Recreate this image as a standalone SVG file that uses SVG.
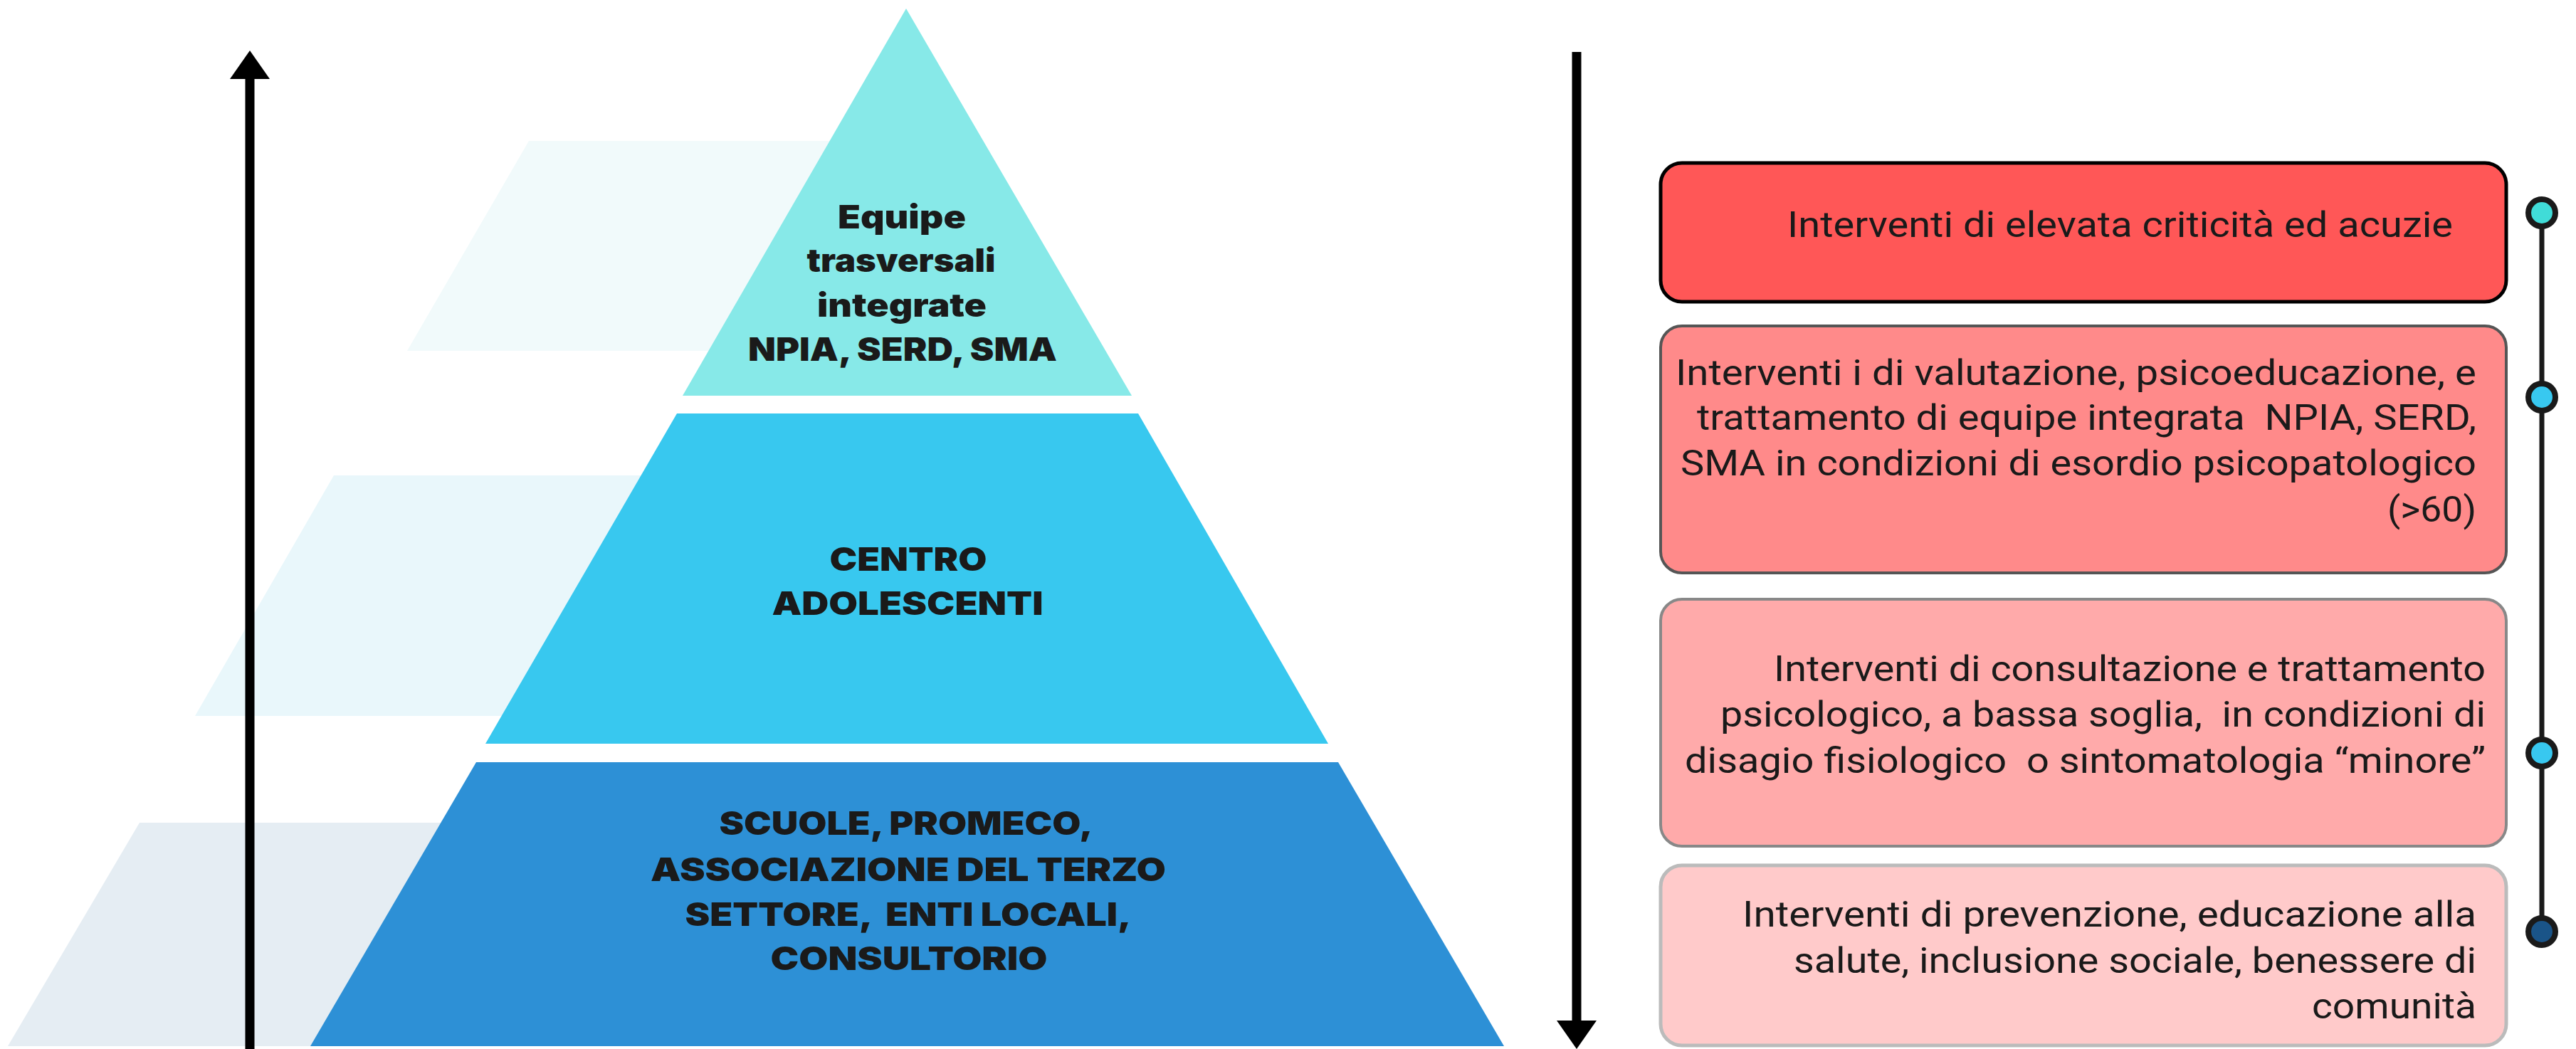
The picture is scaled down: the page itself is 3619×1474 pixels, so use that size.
<svg xmlns="http://www.w3.org/2000/svg" width="3619" height="1474" viewBox="0 0 3619 1474">
<defs>
<style>
.lbl{font-family:Inter,"Open Sans","DejaVu Sans",sans-serif;font-weight:900;font-size:45px;fill:#1a1a1a;text-anchor:middle}
.bx{font-family:Roboto,"Liberation Sans",sans-serif;font-weight:400;font-size:50px;fill:#1a1a1a}
.conn{stroke:#000;stroke-width:13;fill:none}
.dot{stroke:#1a1a1a;stroke-width:8}
</style>
<marker id="ah" viewBox="0 0 40 56" refX="0" refY="28" markerWidth="40" markerHeight="56" markerUnits="userSpaceOnUse" orient="auto">
<path d="M0,0 L40,28 L0,56 Z" fill="#000"/>
</marker>
</defs>
<rect width="3619" height="1474" fill="#fff"/>
<g id="shadows">
<polygon points="743,198 1270,198 1270,493 572,493" fill="#f1fafb"/>
<polygon points="469,668 1270,668 1270,1006 274,1006" fill="#e9f7fb"/>
<polygon points="196,1156 1270,1156 1270,1470 11,1470" fill="#e5edf3"/>
</g>
<g id="level-top">
<polygon points="1273,12 1590,556 959,556" fill="#87e9e8"/>
<text class="lbl" x="1267" y="321" textLength="180" lengthAdjust="spacingAndGlyphs">Equipe</text>
<text class="lbl" x="1266" y="382" textLength="265" lengthAdjust="spacingAndGlyphs">trasversali</text>
<text class="lbl" x="1267" y="445" textLength="238" lengthAdjust="spacingAndGlyphs">integrate</text>
<text class="lbl" x="1268" y="507" textLength="434" lengthAdjust="spacingAndGlyphs">NPIA, SERD, SMA</text>
</g>
<g id="level-middle">
<polygon points="951,581 1599,581 1866,1045 682,1045" fill="#38c8ef"/>
<text class="lbl" x="1276" y="802" textLength="221" lengthAdjust="spacingAndGlyphs">CENTRO</text>
<text class="lbl" x="1275" y="864" textLength="381" lengthAdjust="spacingAndGlyphs">ADOLESCENTI</text>
</g>
<g id="level-bottom">
<polygon points="669,1071 1880,1071 2113,1470 436,1470" fill="#2d90d6"/>
<text class="lbl" x="1273" y="1173" textLength="525" lengthAdjust="spacingAndGlyphs">SCUOLE, PROMECO,</text>
<text class="lbl" x="1276" y="1238" textLength="724" lengthAdjust="spacingAndGlyphs">ASSOCIAZIONE DEL TERZO</text>
<text class="lbl" x="1276" y="1301" textLength="627" lengthAdjust="spacingAndGlyphs" xml:space="preserve">SETTORE,  ENTI LOCALI,</text>
<text class="lbl" x="1277" y="1363" textLength="389" lengthAdjust="spacingAndGlyphs">CONSULTORIO</text>
</g>
<g id="box-1">
<rect x="2333" y="229" width="1188" height="195" rx="30" fill="#ff5757" stroke="#000" stroke-width="5"/>
<text class="bx" x="2511" y="333" textLength="935" lengthAdjust="spacingAndGlyphs">Interventi di elevata criticità ed acuzie</text>
</g>
<g id="box-2">
<rect x="2333" y="458" width="1188" height="347" rx="30" fill="#ff8a8a" stroke="#555" stroke-width="4"/>
<text class="bx" x="2354" y="541" textLength="1125" lengthAdjust="spacingAndGlyphs">Interventi i di valutazione, psicoeducazione, e</text>
<text class="bx" x="2384" y="604" textLength="1095" lengthAdjust="spacingAndGlyphs" xml:space="preserve">trattamento di equipe integrata  NPIA, SERD,</text>
<text class="bx" x="2361" y="668" textLength="1118" lengthAdjust="spacingAndGlyphs">SMA in condizioni di esordio psicopatologico</text>
<text class="bx" x="3354" y="733" textLength="125" lengthAdjust="spacingAndGlyphs">(&gt;60)</text>
</g>
<g id="box-3">
<rect x="2333" y="842" width="1188" height="347" rx="30" fill="#ffaaaa" stroke="#888" stroke-width="4"/>
<text class="bx" x="2492" y="957" textLength="1000" lengthAdjust="spacingAndGlyphs">Interventi di consultazione e trattamento</text>
<text class="bx" x="2417" y="1021" textLength="1075" lengthAdjust="spacingAndGlyphs" xml:space="preserve">psicologico, a bassa soglia,  in condizioni di</text>
<text class="bx" x="2367" y="1086" textLength="1125" lengthAdjust="spacingAndGlyphs" xml:space="preserve">disagio fisiologico  o sintomatologia “minore”</text>
</g>
<g id="box-4">
<rect x="2333" y="1216" width="1188" height="253" rx="30" fill="#ffcaca" stroke="#bbb" stroke-width="5"/>
<text class="bx" x="2448" y="1302" textLength="1031" lengthAdjust="spacingAndGlyphs">Interventi di prevenzione, educazione alla</text>
<text class="bx" x="2520" y="1367" textLength="959" lengthAdjust="spacingAndGlyphs">salute, inclusione sociale, benessere di</text>
<text class="bx" x="3248" y="1431" textLength="231" lengthAdjust="spacingAndGlyphs">comunità</text>
</g>
<g id="connectors">
<path class="conn" d="M351,1474 L351,111" marker-end="url(#ah)"/>
<path class="conn" d="M2215,73 L2215,1434" marker-end="url(#ah)"/>
<line x1="3571" y1="299" x2="3571" y2="1309" stroke="#1a1a1a" stroke-width="7"/>
</g>
<g id="timeline-dots">
<circle class="dot" cx="3571" cy="299" r="19" fill="#40dcd8"/>
<circle class="dot" cx="3571" cy="558" r="19" fill="#38c8f0"/>
<circle class="dot" cx="3571" cy="1058" r="19" fill="#38c8f0"/>
<circle class="dot" cx="3571" cy="1309" r="19" fill="#1a5488"/>
</g>
</svg>
